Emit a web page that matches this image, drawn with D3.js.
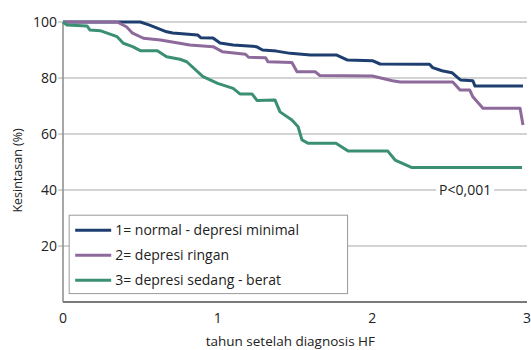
<!DOCTYPE html>
<html>
<head>
<meta charset="utf-8">
<script src="https://cdn.jsdelivr.net/npm/d3@7"></script>
<style>
  body { margin: 0; background: #fff; }
  svg { font-family: 'Open Sans', sans-serif; }
</style>
</head>
<body>
<div id="chart"></div>
<script>
// survival curves, [year, percent]
const normal = [
  [0, 100], [0.5, 100], [0.56, 98.9], [0.67, 96.5], [0.71, 96.1], [0.87, 95.4], [0.89, 94.4],
  [0.97, 94.3], [1.015, 92.5], [1.1, 91.8], [1.25, 91.2], [1.29, 90], [1.38, 89.6], [1.47, 88.8],
  [1.6, 88.2], [1.77, 88.2], [1.84, 86.4], [2.0, 86.2], [2.05, 85], [2.37, 84.9], [2.39, 83.7],
  [2.45, 82.6], [2.515, 81.9], [2.55, 80.25], [2.57, 79.3], [2.65, 79.0], [2.664, 77.1], [2.974, 77.1]
]
const ringan = [
  [0, 100], [0.35, 100], [0.41, 98.3], [0.45, 96.0], [0.52, 94.2], [0.63, 93.6], [0.82, 91.8],
  [0.97, 91.2], [1.03, 89.4], [1.18, 88.5], [1.2, 87.4], [1.31, 87.25], [1.325, 85.8], [1.48, 85.5],
  [1.513, 82.25], [1.63, 82.25], [1.66, 80.9], [2.0, 80.7], [2.13, 79.0], [2.18, 78.6], [2.52, 78.6],
  [2.567, 75.7], [2.63, 75.7], [2.65, 73.3], [2.715, 69.2], [2.955, 69.2], [2.974, 63.2]
]
const berat = [
  [0, 100], [0.026, 98.9], [0.155, 98.6], [0.175, 97.1], [0.24, 96.9], [0.35, 94.75], [0.39, 92.4],
  [0.45, 91.2], [0.5, 89.75], [0.61, 89.75], [0.67, 87.6], [0.756, 86.7], [0.8, 85.8], [0.905, 80.5],
  [1.0, 78.1], [1.1, 76.3], [1.144, 74.3], [1.222, 74.3], [1.254, 72.0], [1.371, 72.1], [1.403, 67.9],
  [1.48, 65], [1.52, 62.6], [1.545, 57.9], [1.584, 56.7], [1.765, 56.7], [1.843, 53.9], [2.1, 53.9],
  [2.147, 50.7], [2.256, 48.0], [2.968, 48.0]
]

const seriesNames = ['1= normal - depresi minimal', '2= depresi ringan', '3= depresi sedang - berat']
const xTicks = [0, 1, 2, 3]
const yTicks = [20, 40, 60, 80, 100]
const pLabel = 'P<0,001'

const colors = ['#1d3e6f', '#8d6a9b', '#3a8f75']

const width = 531
const height = 350
const margin = { top: 22, right: 4, bottom: 48, left: 63 }
const w = width - margin.left - margin.right
const h = height - margin.top - margin.bottom

const svg = d3.select('#chart').append('svg')
  .attr('width', width)
  .attr('height', height)

const g = svg.append('g')
  .attr('transform', `translate(${margin.left}, ${margin.top})`)

const x = d3.scaleLinear().domain([0, 3]).range([0, w])
const y = d3.scaleLinear().domain([0, 100]).range([h, 0])

// gridlines
g.selectAll('.grid').data(yTicks).enter()
  .append('line')
  .attr('class', 'grid')
  .attr('x1', -5)
  .attr('x2', w)
  .attr('y1', (d) => y(d))
  .attr('y2', (d) => y(d))
  .attr('stroke', '#c4c4c4')
  .attr('stroke-width', 1.5)

// axes lines
g.append('line')
  .attr('x1', 0).attr('x2', 0)
  .attr('y1', y(100)).attr('y2', h)
  .attr('stroke', '#8a8a8a')
  .attr('stroke-width', 1.5)

g.append('line')
  .attr('x1', 0).attr('x2', w)
  .attr('y1', h).attr('y2', h)
  .attr('stroke', '#7a7a7a')
  .attr('stroke-width', 2)

// tick labels
g.selectAll('.ylab').data(yTicks).enter()
  .append('text')
  .attr('x', -6)
  .attr('y', (d) => y(d))
  .attr('dy', '0.35em')
  .attr('text-anchor', 'end')
  .attr('fill', '#222')
  .style('font-size', '14px')
  .text((d) => d)

g.selectAll('.xlab').data(xTicks).enter()
  .append('text')
  .attr('x', (d) => x(d))
  .attr('y', h + 16)
  .attr('dy', '0.35em')
  .attr('text-anchor', 'middle')
  .attr('fill', '#222')
  .style('font-size', '14px')
  .text((d) => d)

// axis titles
svg.append('text')
  .attr('transform', `translate(22, ${margin.top + y(47)}) rotate(-90)`)
  .attr('text-anchor', 'middle')
  .attr('fill', '#222')
  .style('font-size', '12.5px')
  .text('Kesintasan (%)')

svg.append('text')
  .attr('x', margin.left + x(1.47))
  .attr('y', 346)
  .attr('text-anchor', 'middle')
  .attr('fill', '#222')
  .style('font-size', '13.5px')
  .text('tahun setelah diagnosis HF')

// p value
const pText = g.append('text')
  .attr('x', x(2.6))
  .attr('y', y(40))
  .attr('dy', '0.35em')
  .attr('text-anchor', 'middle')
  .attr('fill', '#222')
  .style('font-size', '14px')
  .text(pLabel)
const pb = pText.node().getBBox()
g.insert('rect', 'text')
  .attr('x', pb.x - 3)
  .attr('y', pb.y)
  .attr('width', pb.width + 6)
  .attr('height', pb.height)
  .attr('fill', '#fff')

// curves
const line = d3.line()
  .x((d) => x(d[0]))
  .y((d) => y(d[1]))

g.selectAll('.curve').data([normal, ringan, berat]).enter()
  .append('path')
  .attr('class', 'curve')
  .attr('d', line)
  .attr('fill', 'none')
  .attr('stroke', (d, i) => colors[i])
  .attr('stroke-width', 3)
  .attr('stroke-linejoin', 'round')

// legend
const legend = g.append('g')
  .attr('transform', `translate(${x(0.04)}, ${y(31)})`)

legend.append('rect')
  .attr('width', x(1.8))
  .attr('height', y(3) - y(31))
  .attr('fill', '#fff')
  .attr('stroke', '#999')
  .attr('stroke-width', 1)

const rows = legend.selectAll('.row').data(seriesNames).enter()
  .append('g')
  .attr('class', 'row')
  .attr('transform', (d, i) => `translate(0, ${15 + i * 25})`)

rows.append('line')
  .attr('x1', 6).attr('x2', 42)
  .attr('stroke', (d, i) => colors[i])
  .attr('stroke-width', 3)

rows.append('text')
  .attr('x', 46)
  .attr('dy', '0.35em')
  .attr('fill', '#222')
  .style('font-size', '14px')
  .text((d) => d)
</script>
</body>
</html>
